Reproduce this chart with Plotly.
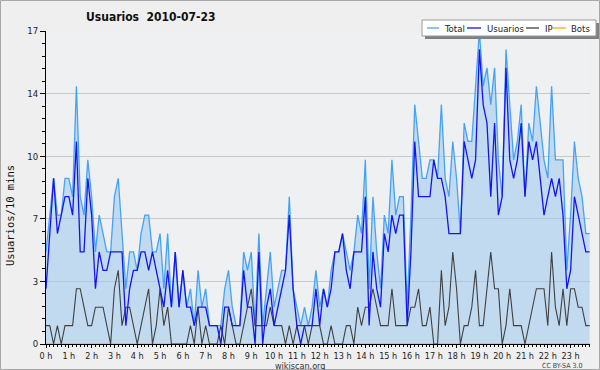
import plotly.graph_objects as go

# ---- data (10-minute buckets, 2010-07-23) ----
total = [5, 7, 9, 7, 7, 9, 9, 8, 14, 8, 7, 10, 8, 5, 7, 6, 5, 5, 8, 9, 6, 3, 5, 5,
         4, 6, 7, 7, 5, 5, 6, 3, 6, 2, 5, 2, 4, 2, 3, 1, 4, 2, 3, 1, 1, 1, 1, 3,
         4, 2, 1, 1, 5, 4, 5, 1, 6, 1, 3, 5, 2, 3, 4, 4, 8, 3, 2, 1, 2, 1, 2, 4,
         2, 3, 2, 4, 5, 5, 6, 5, 4, 5, 7, 6, 10, 3, 8, 5, 3, 7, 6, 10, 7, 8, 8, 2,
         7, 13, 11, 9, 9, 10, 10, 9, 13, 9, 8, 11, 9, 6, 12, 11, 11, 14, 17, 14, 15, 13, 15, 10,
         8, 16, 13, 10, 11, 13, 8, 12, 11, 14, 12, 10, 9, 14, 10, 10, 10, 4, 7, 11, 9, 8, 6, 6]
usuarios = [3, 6, 9, 6, 7, 8, 8, 7, 11, 5, 5, 9, 7, 3, 5, 4, 4, 5, 5, 5, 5, 1, 3, 4,
            4, 5, 5, 4, 5, 4, 3, 2, 4, 2, 5, 2, 4, 2, 2, 1, 2, 2, 2, 1, 1, 1, 0, 2,
            2, 1, 1, 1, 4, 2, 2, 0, 5, 0, 2, 3, 1, 2, 3, 4, 7, 3, 1, 0, 1, 1, 1, 3,
            1, 3, 2, 3, 5, 5, 6, 4, 3, 5, 5, 5, 8, 1, 5, 3, 2, 6, 5, 7, 6, 7, 7, 1,
            5, 11, 8, 8, 8, 8, 10, 9, 9, 8, 6, 6, 6, 6, 11, 10, 9, 10, 16, 13, 12, 8, 12, 7,
            8, 15, 10, 9, 10, 12, 8, 11, 10, 11, 9, 7, 8, 9, 8, 9, 7, 3, 4, 8, 7, 6, 5, 5]
ip = [1, 1, 0, 1, 0, 1, 1, 1, 3, 3, 2, 1, 1, 2, 2, 2, 1, 0, 3, 4, 1, 2, 2, 1,
      0, 1, 2, 3, 0, 1, 3, 1, 2, 0, 0, 0, 0, 0, 1, 0, 2, 0, 1, 0, 0, 0, 1, 0,
      2, 1, 0, 0, 1, 2, 3, 1, 1, 1, 1, 2, 1, 1, 1, 0, 1, 0, 1, 1, 1, 0, 1, 1,
      1, 0, 0, 1, 0, 0, 0, 1, 1, 0, 2, 1, 2, 2, 3, 2, 1, 1, 1, 3, 1, 1, 1, 1,
      2, 2, 3, 1, 1, 2, 0, 0, 4, 1, 2, 5, 3, 0, 1, 1, 2, 4, 1, 1, 3, 5, 3, 3,
      0, 1, 3, 1, 1, 1, 0, 1, 2, 3, 3, 3, 1, 5, 2, 1, 3, 1, 3, 3, 2, 2, 1, 1]
bots = [0] * 144

minutes = list(range(0, 1440, 10))
hours = [m / 60 for m in minutes]

hour_ticks = list(range(24))
hour_labels = ["0 h", "1 h", "2 h", "3 h", "4 h", "5 h", "6 h", "7 h", "8 h", "9 h",
               "10 h", "11 h", "12 h", "13 h", "14 h", "15 h", "16 h", "17 h", "18 h",
               "19 h", "20 h", "21 h", "22 h", "23 h"]
y_ticks = [0, 3.4, 6.8, 10.2, 13.6, 17]
y_labels = ["0", "3", "7", "10", "14", "17"]

series_names = ["Total", "Usuarios", "IP", "Bots"]
series_colors = ["#45a3f7", "#1414f0", "#404040", "#ffa500"]

# ---- geometry helpers (pixel -> paper) ----
W, H = 600, 370
L, R, T, B = 46, 10, 31, 26
PW, PH = W - L - R, H - T - B


def px(x):
    return (x - L) / PW


def py(y):
    return (H - B - y) / PH


FONT = "DejaVu Sans Condensed, DejaVu Sans, sans-serif"

fig = go.Figure()
fig.add_trace(go.Scatter(x=hours, y=total, mode="lines", fill="tozeroy",
                         fillcolor="rgba(156,200,238,0.55)",
                         line=dict(color=series_colors[0], width=1.3), name="Total",
                         showlegend=False))
fig.add_trace(go.Scatter(x=hours, y=bots, mode="lines",
                         line=dict(color=series_colors[3], width=1), name="Bots",
                         showlegend=False))
fig.add_trace(go.Scatter(x=hours, y=ip, mode="lines",
                         line=dict(color=series_colors[2], width=1.1), name="IP",
                         showlegend=False))
fig.add_trace(go.Scatter(x=hours, y=usuarios, mode="lines",
                         line=dict(color=series_colors[1], width=1.3), name="Usuarios",
                         showlegend=False))

shapes = []
annotations = []

# outer border
shapes.append(dict(type="rect", xref="paper", yref="paper",
                   x0=px(0.5), x1=px(599.5), y0=py(369.5), y1=py(0.5),
                   line=dict(color="#a8a8a8", width=1), layer="below"))

# legend box with shadow
lx0, ly0, lx1, ly1 = 422, 20, 596, 36
shapes.append(dict(type="rect", xref="paper", yref="paper",
                   x0=px(lx0 + 3), x1=px(lx1 + 3), y0=py(ly1 + 3), y1=py(ly0 + 3),
                   line=dict(width=0), fillcolor="#808080"))
shapes.append(dict(type="rect", xref="paper", yref="paper",
                   x0=px(lx0), x1=px(lx1), y0=py(ly1), y1=py(ly0),
                   line=dict(color="#9a9a9a", width=1), fillcolor="#ffffff"))
leg_line_x = [(427, 439), (467, 481), (526, 539), (553, 566)]
leg_text_x = [442, 485, 543, 569]
for (a, b), tx, name, col in zip(leg_line_x, leg_text_x, series_names, series_colors):
    shapes.append(dict(type="line", xref="paper", yref="paper",
                       x0=px(a), x1=px(b), y0=py(28), y1=py(28),
                       line=dict(color=col, width=1.3)))
    annotations.append(dict(text=name, xref="paper", yref="paper", x=px(tx), y=py(28.5),
                            xanchor="left", yanchor="middle", showarrow=False,
                            font=dict(family=FONT, size=9.5, color="#222")))

# title
annotations.append(dict(text="<b>Usuarios  2010-07-23</b>", xref="paper", yref="paper",
                        x=px(151), y=py(17), xanchor="center", yanchor="middle",
                        showarrow=False, font=dict(family=FONT, size=12, color="#111")))
# y axis title
annotations.append(dict(text="Usuarios/10 mins", xref="paper", yref="paper",
                        x=px(10), y=py(216), xanchor="center", yanchor="middle",
                        textangle=-90, showarrow=False,
                        font=dict(family="DejaVu Sans Mono, monospace", size=10.5, color="#111")))
# footer
annotations.append(dict(text="wikiscan.org", xref="paper", yref="paper",
                        x=px(300), y=py(365.5), xanchor="center", yanchor="middle",
                        showarrow=False, font=dict(family=FONT, size=9, color="#333")))
annotations.append(dict(text="CC BY-SA 3.0", xref="paper", yref="paper",
                        x=px(562), y=py(365.5), xanchor="center", yanchor="middle",
                        showarrow=False, font=dict(family=FONT, size=7, color="#444")))

fig.update_layout(
    width=W, height=H,
    margin=dict(l=L, r=R, t=T, b=B, pad=0),
    paper_bgcolor="#efefef",
    plot_bgcolor="#eef0f2",
    showlegend=False,
    shapes=shapes,
    annotations=annotations,
    font=dict(family=FONT, size=9, color="#222"),
)
fig.update_xaxes(
    range=[0, 23.85], tickmode="array", tickvals=hour_ticks, ticktext=hour_labels,
    ticks="outside", ticklen=3, tickcolor="#000", tickwidth=1,
    showline=True, linecolor="#000", linewidth=1, showgrid=False, zeroline=False,
    tickfont=dict(family=FONT, size=9, color="#222"),
    minor=dict(dtick=1 / 6, tick0=0, ticks="outside", ticklen=2, tickcolor="#000", showgrid=False),
    fixedrange=True,
)
fig.update_yaxes(
    range=[0, 17], tickmode="array", tickvals=y_ticks, ticktext=y_labels,
    ticks="outside", ticklen=5, tickcolor="#000", tickwidth=1,
    showline=True, linecolor="#000", linewidth=1,
    showgrid=True, gridcolor="#c8c8c8", gridwidth=1, zeroline=False,
    tickfont=dict(family=FONT, size=9.5, color="#222"),
    minor=dict(tickvals=[0.68 * k for k in range(26) if k % 5 != 0], ticks="outside",
               ticklen=3, tickcolor="#000", showgrid=False),
    fixedrange=True,
)

fig.write_html("out.html", config={"displayModeBar": False},
               post_script="document.body.style.margin='0';document.body.style.overflow='hidden';")
